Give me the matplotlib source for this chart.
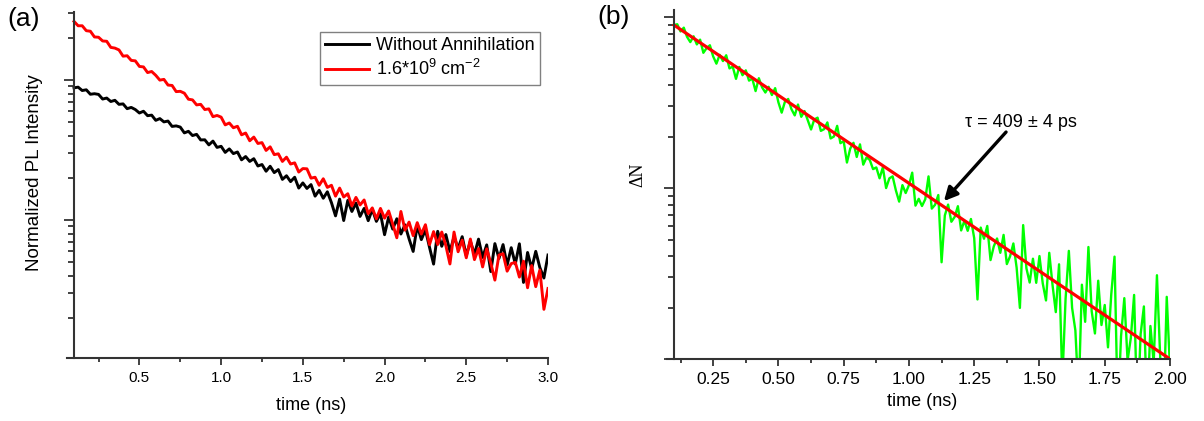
import numpy as np
import matplotlib.pyplot as plt
from matplotlib.ticker import MultipleLocator, LogLocator, NullFormatter, FormatStrFormatter

plt.rcParams['font.family'] = ['Liberation Sans', 'DejaVu Sans']
plt.rcParams['mathtext.fontset'] = 'custom'
plt.rcParams['mathtext.rm'] = 'Liberation Sans'
plt.rcParams['mathtext.it'] = 'Liberation Sans:italic'

# ---- panel (a): PL decay (log axis, arbitrary units)
t_a = np.linspace(0.1, 3.0, 117)
black_a = [0.879, 0.889, 0.841, 0.851, 0.791, 0.798, 0.789, 0.731, 0.743, 0.702,
           0.716, 0.670, 0.675, 0.624, 0.637, 0.615, 0.581, 0.598, 0.556, 0.561,
           0.515, 0.530, 0.502, 0.509, 0.466, 0.470, 0.461, 0.419, 0.430, 0.401,
           0.409, 0.373, 0.374, 0.344, 0.366, 0.330, 0.336, 0.304, 0.322, 0.298,
           0.306, 0.269, 0.284, 0.262, 0.274, 0.243, 0.249, 0.223, 0.242, 0.218,
           0.229, 0.195, 0.207, 0.188, 0.202, 0.169, 0.184, 0.168, 0.179, 0.148,
           0.163, 0.143, 0.159, 0.133, 0.107, 0.141, 0.0991, 0.138, 0.115, 0.132,
           0.106, 0.121, 0.0989, 0.119, 0.0977, 0.111, 0.0785, 0.105, 0.0861, 0.102,
           0.0794, 0.0923, 0.0733, 0.0596, 0.0912, 0.0724, 0.0851, 0.0638, 0.0484, 0.0830,
           0.0649, 0.0787, 0.0596, 0.0757, 0.0627, 0.0760, 0.0556, 0.0706, 0.0568, 0.0730,
           0.0540, 0.0664, 0.0428, 0.0678, 0.0531, 0.0667, 0.0476, 0.0634, 0.0485, 0.0676,
           0.0358, 0.0586, 0.0449, 0.0597, 0.0458, 0.0385, 0.0562]
red_a = [2.62, 2.44, 2.44, 2.25, 2.23, 2.03, 2.02, 1.90, 1.89, 1.71,
         1.69, 1.64, 1.48, 1.49, 1.38, 1.37, 1.25, 1.24, 1.13, 1.15,
         1.08, 0.998, 1.01, 0.920, 0.914, 0.826, 0.830, 0.805, 0.729, 0.721,
         0.664, 0.670, 0.615, 0.622, 0.547, 0.558, 0.543, 0.478, 0.493, 0.456,
         0.467, 0.406, 0.418, 0.368, 0.391, 0.352, 0.357, 0.314, 0.333, 0.293,
         0.297, 0.262, 0.281, 0.251, 0.256, 0.220, 0.233, 0.232, 0.199, 0.202,
         0.177, 0.197, 0.171, 0.177, 0.148, 0.169, 0.146, 0.154, 0.126, 0.145,
         0.128, 0.139, 0.111, 0.122, 0.102, 0.121, 0.103, 0.116, 0.0935, 0.0746,
         0.115, 0.0847, 0.0966, 0.0773, 0.0957, 0.0793, 0.0925, 0.0667, 0.0826, 0.0668,
         0.0820, 0.0656, 0.0485, 0.0820, 0.0593, 0.0718, 0.0537, 0.0731, 0.0521, 0.0625,
         0.0462, 0.0622, 0.0492, 0.0372, 0.0562, 0.0574, 0.0431, 0.0488, 0.0498, 0.0391,
         0.0508, 0.0328, 0.0473, 0.0334, 0.0439, 0.0230, 0.0324]
labels_a = ['Without Annihilation', '1.6*10$^{9}$ cm$^{-2}$']

# ---- panel (b): carrier density decay and single exponential fit
t_b = np.linspace(0.1, 2.0, 153)
green_b = [0.898, 0.908, 0.824, 0.867, 0.766, 0.714, 0.772, 0.692, 0.738, 0.618,
           0.659, 0.684, 0.589, 0.534, 0.601, 0.553, 0.598, 0.501, 0.513, 0.435,
           0.511, 0.457, 0.488, 0.425, 0.436, 0.369, 0.439, 0.388, 0.362, 0.391,
           0.350, 0.384, 0.317, 0.276, 0.320, 0.332, 0.289, 0.266, 0.308, 0.261,
           0.282, 0.249, 0.220, 0.252, 0.258, 0.216, 0.221, 0.242, 0.195, 0.200,
           0.231, 0.183, 0.188, 0.141, 0.170, 0.184, 0.152, 0.180, 0.137, 0.151,
           0.146, 0.129, 0.132, 0.114, 0.132, 0.100, 0.114, 0.117, 0.0968, 0.0833,
           0.104, 0.0935, 0.104, 0.123, 0.0789, 0.0865, 0.0785, 0.0860, 0.117, 0.0758,
           0.0798, 0.0910, 0.0368, 0.0692, 0.0800, 0.0635, 0.0677, 0.0783, 0.0565, 0.0645,
           0.0562, 0.0659, 0.0509, 0.0223, 0.0587, 0.0505, 0.0600, 0.0379, 0.0456, 0.0507,
           0.0418, 0.0532, 0.0359, 0.0399, 0.0474, 0.0342, 0.0199, 0.0607, 0.0339, 0.0280,
           0.0386, 0.0279, 0.0400, 0.0277, 0.0220, 0.0418, 0.0271, 0.0188, 0.0358, 0.0074,
           0.0225, 0.0429, 0.0199, 0.0147, 0.0060, 0.0272, 0.0165, 0.0452, 0.0190, 0.0141,
           0.0287, 0.0158, 0.0207, 0.0117, 0.0239, 0.0397, 0.0048, 0.0136, 0.0227, 0.0098,
           0.0133, 0.0237, 0.0046, 0.0140, 0.0203, 0.0048, 0.0156, 0.0095, 0.0309, 0.0102,
           0.0047, 0.0231, 0.0088]
fit_t = [0.1, 2.0]
fit_b = [0.898, 0.0100]
tau_label = 'τ = 409 ± 4 ps'

W, H = 1204, 421
fig = plt.figure(figsize=(W / 100, H / 100), dpi=100)
ax1 = fig.add_axes([67 / W, 1 - 358 / H, (548 - 67) / W, (358 - 12) / H])
ax2 = fig.add_axes([667 / W, 1 - 359 / H, (1170 - 667) / W, (359 - 10) / H])

axis_col = '#333333'


def style(ax, xlim, ylim, major, minor, fmt, labelsize):
    ax.set_yscale('log')
    ax.set_xlim(*xlim)
    ax.set_ylim(*ylim)
    ax.spines['top'].set_visible(False)
    ax.spines['right'].set_visible(False)
    ax.spines['left'].set_position(('data', 0.1))
    for s in ('left', 'bottom'):
        ax.spines[s].set_linewidth(1.5)
        ax.spines[s].set_color(axis_col)
    ax.xaxis.set_major_locator(MultipleLocator(major))
    ax.xaxis.set_minor_locator(MultipleLocator(minor))
    ax.xaxis.set_major_formatter(FormatStrFormatter(fmt))
    ax.yaxis.set_major_locator(LogLocator(base=10, numticks=20))
    ax.yaxis.set_minor_locator(LogLocator(base=10, subs=np.arange(2, 10), numticks=20))
    ax.yaxis.set_major_formatter(NullFormatter())
    ax.yaxis.set_minor_formatter(NullFormatter())
    ax.tick_params(which='both', direction='out', width=1.3, color=axis_col)
    ax.tick_params(axis='x', which='major', length=5, labelsize=labelsize, pad=4)
    ax.tick_params(axis='x', which='minor', length=3)
    ax.tick_params(axis='y', which='major', length=7)
    ax.tick_params(axis='y', which='minor', length=4)


# panel (a)
ax1.plot(t_a, black_a, color='black', lw=2.1, label=labels_a[0])
ax1.plot(t_a, red_a, color='red', lw=2.1, label=labels_a[1])
style(ax1, (0.057, 3.0), (0.01033, 3.06), 0.5, 0.25, '%.1f', 11)
leg = ax1.legend(loc='upper right', bbox_to_anchor=(0.983, 0.942), fontsize=13,
                 fancybox=False, edgecolor='#808080', framealpha=1,
                 handlelength=2.4, borderpad=0.3, labelspacing=0.25,
                 handletextpad=0.4, borderaxespad=0)
leg.get_frame().set_linewidth(1.0)

# panel (b)
ax2.plot(t_b, green_b, color='#00ff00', lw=1.7)
ax2.plot(fit_t, fit_b, color='red', lw=2.3)
style(ax2, (0.0732, 2.0), (0.01, 1.1), 0.25, 0.125, '%.2f', 12.5)
ax2.annotate('', xy=(1.134, 0.0839), xytext=(1.372, 0.2126),
             arrowprops=dict(arrowstyle='-|>', color='black', lw=2.4,
                             mutation_scale=20, shrinkA=0, shrinkB=0))
ax2.text(1.429, 0.243, tau_label, ha='center', va='center', fontsize=13)

# labels
fig.text(7 / W, 1 - 19 / H, '(a)', fontsize=19, va='center')
fig.text(597 / W, 1 - 17 / H, '(b)', fontsize=19, va='center')
fig.text(34.5 / W, 1 - 173 / H, 'Normalized PL Intensity', rotation=90,
         ha='center', va='center', fontsize=13.5)
fig.text(638 / W, 1 - 175 / H, 'ΔN', rotation=90, ha='center', va='center',
         fontsize=13, family=['Liberation Serif', 'DejaVu Serif'])
fig.text(311 / W, 1 - 405 / H, 'time (ns)', ha='center', va='center', fontsize=13)
fig.text(922 / W, 1 - 402 / H, 'time (ns)', ha='center', va='center', fontsize=13)

fig.savefig('out.png', dpi=100)
